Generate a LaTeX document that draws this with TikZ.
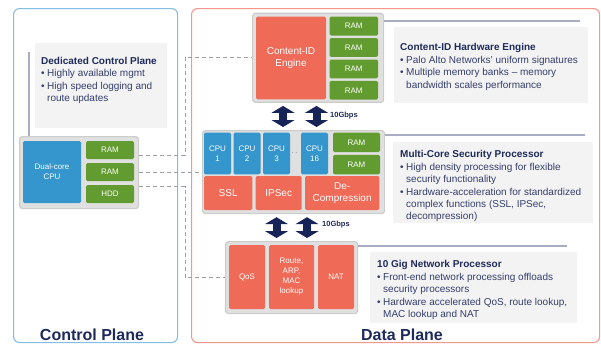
\documentclass[tikz,border=0pt]{standalone}
\usepackage{fontspec}
\setmainfont{Liberation Sans}
\usetikzlibrary{positioning,arrows.meta,calc}
\definecolor{cpblue}{RGB}{52,150,204}
\definecolor{ramgreen}{RGB}{98,155,48}
\definecolor{engred}{RGB}{240,106,88}
\definecolor{grpgray}{RGB}{224,224,224}
\definecolor{grpedge}{RGB}{204,204,204}
\definecolor{navy}{RGB}{30,42,90}
\definecolor{bodynavy}{RGB}{52,62,108}
\definecolor{arrownavy}{RGB}{22,36,88}
\definecolor{infogray}{RGB}{243,243,243}
\definecolor{panelblue}{RGB}{130,190,228}
\definecolor{panelred}{RGB}{244,150,140}
\definecolor{rulegray}{RGB}{168,173,196}
\definecolor{linkgray}{RGB}{160,160,160}
\newcommand{\bl}{\makebox[6pt][l]{\textbullet}}
\newcommand{\ind}{\hspace*{6pt}}

\begin{document}
\begin{tikzpicture}[
  x=1pt, y=-1pt,
  panel/.style={draw, rounded corners=6pt, line width=1.1pt, inner sep=0pt, anchor=north west},
  grp/.style={draw=grpedge, fill=grpgray, line width=1.2pt, rounded corners=3pt,
              inner sep=0pt, anchor=north west},
  blk/.style={rounded corners=1.5pt, inner sep=0pt, outer sep=0pt, text=white, align=center,
              font=\fontsize{8}{10}\selectfont, anchor=north west},
  cpu/.style={blk, fill=cpblue},
  ram/.style={blk, fill=ramgreen},
  eng/.style={blk, fill=engred},
  big/.style={font=\fontsize{10}{12}\selectfont},
  info/.style={fill=infogray, inner sep=0pt, anchor=north west},
  infotext/.style={align=left, text=bodynavy, inner sep=0pt, anchor=north west,
                   font=\fontsize{10}{12.4}\selectfont},
  head/.style={text=navy, font=\bfseries},
  rule/.style={draw=rulegray, line width=1.3pt},
  link/.style={draw=linkgray, line width=0.9pt, dash pattern=on 4pt off 3pt},
  bus/.style={draw=arrownavy, line width=8pt,
              {Triangle[width=23pt,length=7pt]}-{Triangle[width=23pt,length=7pt]},
              shorten <=3pt, shorten >=3pt},
  rate/.style={text=navy, font=\bfseries\fontsize{7.5}{9}\selectfont, inner sep=0pt, anchor=west},
  plane/.style={text=navy, font=\bfseries\fontsize{16}{19}\selectfont, inner sep=0pt, anchor=base},
]
\useasboundingbox (0,0) rectangle (601,343);

% --- the two planes ---
\node[panel, draw=panelblue, minimum width=164pt, minimum height=334pt] (cpanel) at (13,8) {};
\node[panel, draw=panelred, minimum width=408pt, minimum height=334pt] (dpanel) at (191,8) {};
\node[plane] (cptitle) at (92,340) {Control Plane};
\node[plane] (dptitle) at (402,340) {Data Plane};

% --- control plane ---
\node[info, minimum width=132pt, minimum height=85pt] (cpinfo) at (35,43) {};
\node[infotext] (cptext) at (41,57) {{\color{navy}\bfseries Dedicated Control Plane}\\
  \bl Highly available mgmt\\
  \bl High speed logging and\\
  \ind route updates};
\node[grp, minimum width=119pt, minimum height=72pt] (cpgrp) at (19,136) {};
\node[cpu, minimum width=58pt, minimum height=62pt] (cpcpu) at (23,141) {Dual-core\\CPU};
\node[ram, minimum width=48pt, minimum height=18pt] (cpram1) at (86,141) {RAM};
\node[ram, minimum width=48pt, minimum height=18pt, below=4pt of cpram1] (cpram2) {RAM};
\node[ram, minimum width=48pt, minimum height=18pt, below=4pt of cpram2] (cphdd) {HDD};
\coordinate (cptick) at (29,52);
\draw[rule] (cptick) -- (cptick |- cpgrp.north);

% --- content-id engine ---
\node[grp, minimum width=131pt, minimum height=89pt] (cidgrp) at (252,12.7) {};
\node[eng, big, minimum width=70pt, minimum height=82.6pt] (ce) at (256,16.7) {Content-ID\\Engine};
\node[ram, minimum width=48.5pt, minimum height=18.8pt] (cram1) at (329.5,16.7) {RAM};
\node[ram, minimum width=48.5pt, minimum height=18.8pt, below=2.6pt of cram1] (cram2) {RAM};
\node[ram, minimum width=48.5pt, minimum height=18.8pt, below=2.6pt of cram2] (cram3) {RAM};
\node[ram, minimum width=48.5pt, minimum height=18.8pt, below=2.6pt of cram3] (cram4) {RAM};

% --- multi-core security processor ---
\node[grp, minimum width=182pt, minimum height=83pt] (mcgrp) at (202,130) {};
\node[cpu, minimum width=27pt, minimum height=41.6pt] (cpu1) at (204,132.7) {CPU\\1};
\node[cpu, minimum width=27pt, minimum height=41.6pt, right=2.5pt of cpu1] (cpu2) {CPU\\2};
\node[cpu, minimum width=27pt, minimum height=41.6pt, right=2.5pt of cpu2] (cpu3) {CPU\\3};
\node[cpu, minimum width=27pt, minimum height=41.6pt, right=11pt of cpu3] (cpu16) {CPU\\16};
\node[text=navy, inner sep=0pt, font=\fontsize{7}{7}\selectfont] (cpudots) at (294.5,153) {$\cdot\,\cdot$};
\node[ram, minimum width=47pt, minimum height=19.5pt, right=5pt of cpu16.north east, anchor=north west] (mram1) {RAM};
\node[ram, minimum width=47pt, minimum height=19.5pt, below=2.6pt of mram1] (mram2) {RAM};
\node[eng, big, minimum width=48.3pt, minimum height=34pt] (ssl) at (204,176) {SSL};
\node[eng, big, minimum width=46pt, minimum height=34pt, right=3.4pt of ssl] (ipsec) {IPSec};
\node[eng, big, minimum width=74.3pt, minimum height=34pt, right=3.3pt of ipsec] (decomp) {De-\\Compression};

% --- network processor ---
\node[grp, minimum width=132pt, minimum height=72pt] (netgrp) at (225,241) {};
\node[eng, minimum width=36pt, minimum height=64pt] (qos) at (229,245) {QoS};
\node[eng, minimum width=45pt, minimum height=64pt, right=4pt of qos] (route) {Route,\\ARP,\\MAC\\lookup};
\node[eng, minimum width=36pt, minimum height=64pt, right=4pt of route] (nat) {NAT};

% --- 10Gbps buses ---
\coordinate (upa) at (283,0);
\coordinate (upb) at (316.5,0);
\coordinate (lob) at (307,0);
\draw[bus] (cidgrp.south -| upa) -- (mcgrp.north -| upa);
\draw[bus] (cidgrp.south -| upb) -- (mcgrp.north -| upb);
\draw[bus] (mcgrp.south -| cpu3) -- (netgrp.north -| cpu3);
\draw[bus] (mcgrp.south -| lob) -- (netgrp.north -| lob);
\node[rate] (uprate) at (330,116) {10Gbps};
\node[rate] (lorate) at (322,225) {10Gbps};

% --- descriptions ---
\node[info, minimum width=194pt, minimum height=76pt] (cidinfo) at (394,27) {};
\node[infotext] (cidtext) at (400,43.5) {{\color{navy}\bfseries Content-ID Hardware Engine}\\
  \bl Palo Alto Networks' uniform signatures\\
  \bl Multiple memory banks -- memory\\
  \ind bandwidth scales performance};
\node[info, minimum width=200pt, minimum height=81pt] (mcinfo) at (393,142) {};
\node[infotext] (mctext) at (400,150.5) {{\color{navy}\bfseries Multi-Core Security Processor}\\
  \bl High density processing for flexible\\
  \ind security functionality\\
  \bl Hardware-acceleration for standardized\\
  \ind complex functions (SSL, IPSec,\\
  \ind decompression)};
\node[info, minimum width=207pt, minimum height=71pt] (netinfo) at (370,252) {};
\node[infotext] (nettext) at (377,260.5) {{\color{navy}\bfseries 10 Gig Network Processor}\\
  \bl Front-end network processing offloads\\
  \ind security processors\\
  \bl Hardware accelerated QoS, route lookup,\\
  \ind MAC lookup and NAT};
\coordinate (cidrule) at (580,21);
\coordinate (mcrule) at (585,135);
\coordinate (netrule) at (567,246);
\draw[rule] (cidgrp.east |- cidrule) -- (cidrule);
\draw[rule] (mcgrp.east |- mcrule) -- (mcrule);
\draw[rule] (netgrp.east |- netrule) -- (netrule);

% --- control links ---
\coordinate (busx) at (185,0);
\draw[link] ($(cpgrp.east)+(0,-17)$) -| (busx |- cidgrp.west) -- (cidgrp.west);
\draw[link] (cpgrp.east) -- (cpgrp.east -| mcgrp.west);
\draw[link] ($(cpgrp.east)+(0,14)$) -| (busx |- netgrp.west) -- (netgrp.west);
\end{tikzpicture}
\end{document}
